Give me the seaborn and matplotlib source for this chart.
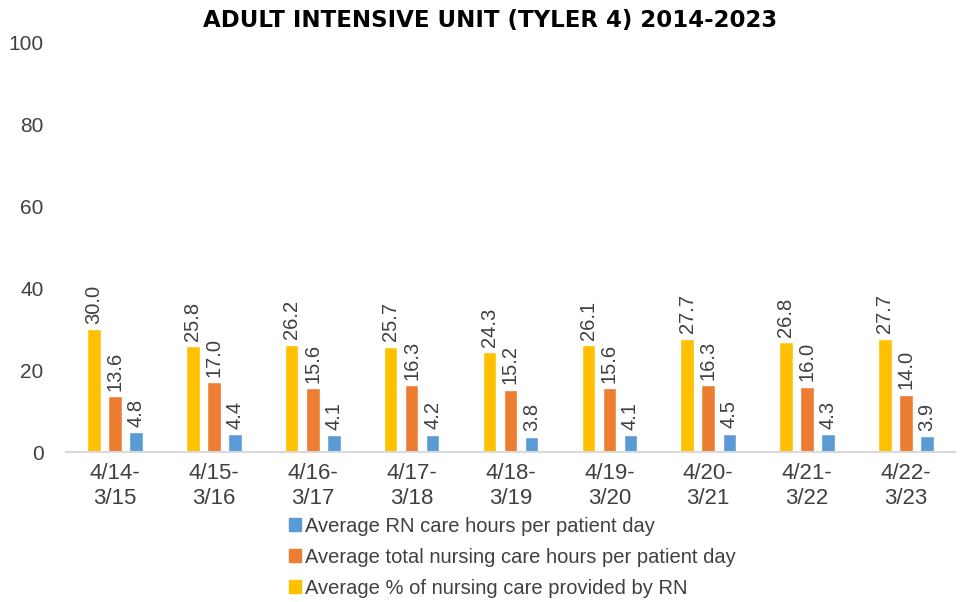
import numpy as np
import pandas as pd
import seaborn as sns
import matplotlib.pyplot as plt

periods = ["4/14-\n3/15", "4/15-\n3/16", "4/16-\n3/17", "4/17-\n3/18", "4/18-\n3/19",
           "4/19-\n3/20", "4/20-\n3/21", "4/21-\n3/22", "4/22-\n3/23"]
pct_rn = [30.0, 25.8, 26.2, 25.7, 24.3, 26.1, 27.7, 26.8, 27.7]
total_hours = [13.6, 17.0, 15.6, 16.3, 15.2, 15.6, 16.3, 16.0, 14.0]
rn_hours = [4.8, 4.4, 4.1, 4.2, 3.8, 4.1, 4.5, 4.3, 3.9]

lab_pct = "Average % of nursing care provided by RN"
lab_total = "Average total nursing care hours per patient day"
lab_rn = "Average RN care hours per patient day"

df = pd.concat([
    pd.DataFrame({"period": periods, "value": pct_rn, "measure": lab_pct}),
    pd.DataFrame({"period": periods, "value": total_hours, "measure": lab_total}),
    pd.DataFrame({"period": periods, "value": rn_hours, "measure": lab_rn}),
])

colors = {lab_pct: "#FFC000", lab_total: "#ED7D31", lab_rn: "#5B9BD5"}

sns.set_style("white")
plt.rcParams['font.family'] = ['Liberation Sans', 'DejaVu Sans']

fig = plt.figure(figsize=(9.65, 6.02), dpi=100)
ax = fig.add_axes([0.068, 0.249, 0.922, 0.681])

sns.barplot(data=df, x="period", y="value", hue="measure",
            hue_order=[lab_pct, lab_total, lab_rn], palette=colors,
            saturation=1, width=0.64, gap=0.36, legend=False, ax=ax)

for c in ax.containers:
    ax.bar_label(c, fmt="%.1f", rotation=90, padding=4, fontsize=14.5, color="#404040")

ax.set_ylim(0, 100)
ax.set_yticks(np.arange(0, 101, 20))
ax.set_xlim(-0.5, len(periods) - 0.5)
ax.set_xlabel("")
ax.set_ylabel("")
ax.tick_params(axis="y", labelsize=15, pad=16, length=0, colors="#404040")
ax.tick_params(axis="x", labelsize=16, pad=8, length=0, colors="#404040")
for t in ax.get_xticklabels():
    t.set_linespacing(1.25)
for s in ["top", "right", "left"]:
    ax.spines[s].set_visible(False)
ax.spines["bottom"].set_color("#D9D9D9")
ax.spines["bottom"].set_linewidth(1.5)

fig.suptitle("ADULT INTENSIVE UNIT (TYLER 4) 2014-2023", x=0.508, y=0.985,
             fontsize=16.5, fontweight="bold", family="DejaVu Sans", color="#000000")

handles = [plt.Rectangle((0, 0), 1, 1, color=colors[m]) for m in [lab_rn, lab_total, lab_pct]]
fig.legend(handles, [lab_rn, lab_total, lab_pct], loc="upper left",
           bbox_to_anchor=(0.299, 0.142), frameon=False, fontsize=14.5,
           handlelength=0.6, handleheight=0.6, handletextpad=0.2,
           labelspacing=0.6, borderaxespad=0, borderpad=0, labelcolor="#404040")

fig.savefig("out.png", dpi=100)
